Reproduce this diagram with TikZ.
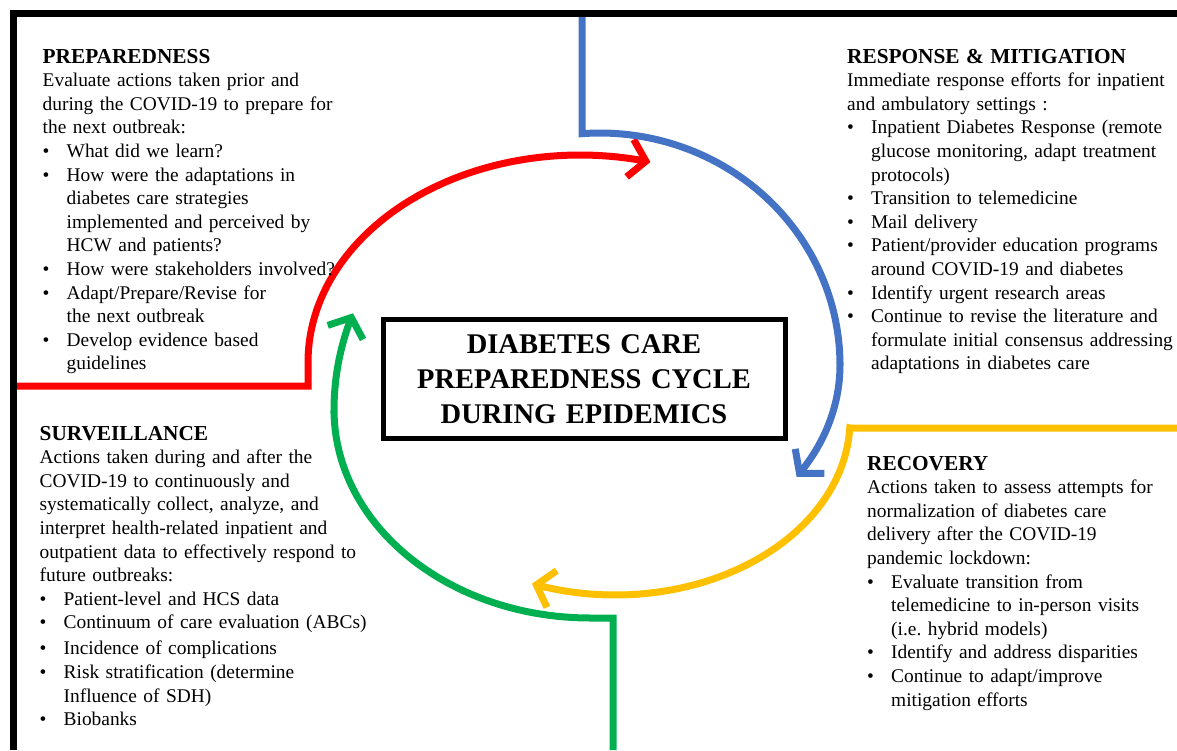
\documentclass[tikz,border=0pt]{standalone}
\usepackage{fontspec}
\setmainfont{Liberation Serif}
\usetikzlibrary{arrows.meta}
\definecolor{cred}{HTML}{FF0000}
\definecolor{cblue}{HTML}{4472C4}
\definecolor{cyellow}{HTML}{FFC000}
\definecolor{cgreen}{HTML}{00B050}
\frenchspacing
\newcommand{\bu}{\makebox[24pt][l]{\textbullet}}
\newcommand{\ind}{\hspace*{24pt}}
\newcommand{\hd}[1]{{\fontsize{21.3}{23.6}\selectfont\bfseries #1}}
\begin{document}
\begin{tikzpicture}[x=1pt,y=-1pt,
  cyc/.style={line width=7pt, line join=miter,
    -{Straight Barb[length=16pt,width=38pt,line cap=butt,line join=miter]}},
  txt/.style={font=\fontsize{19.4}{23.6}\selectfont, text width=520pt, align=left, inner sep=0pt, anchor=base west},
  titlebox/.style={draw, line width=5pt, minimum width=402pt, minimum height=119pt, inner sep=0pt},
  titletxt/.style={font=\fontsize{28.5}{35.3}\selectfont\bfseries, text width=402pt, align=center, inner sep=0pt, anchor=base}]
\useasboundingbox[fill=white] (0,0) rectangle (1177,750);

% red: preparedness
\draw[cyc, cred] (13,386) -- (308,386) -- (308,362)
  -- plot[domain=0:105, samples=60, variable=\t] ({580+272*cos(180-\t)}, {362-207*sin(180-\t)});
% blue: response
\draw[cyc, cblue] (582,17) -- (582,133)
  -- plot[domain=0:94.3, samples=60, variable=\t] ({600+240*cos(94.3-\t)}, {365-232*sin(94.3-\t)})
  -- plot[domain=0:35, samples=25, variable=\t] ({600+240*cos(\t)}, {365+195*sin(\t)});
% yellow: recovery
\draw[cyc, cyellow] (1177,428) -- (850,428)
  -- plot[domain=2.6:110.7, samples=60, variable=\t] ({615+235*cos(\t)}, {420+175*sin(\t)});
% green: surveillance
\draw[cyc, cgreen] (613,750) -- (613,618) -- (590,618)
  -- plot[domain=0:90, samples=50, variable=\t] ({590+256*cos(270-\t)}, {410-208*sin(270-\t)})
  -- plot[domain=0:22.2, samples=20, variable=\t] ({590+256*cos(180-\t)}, {410-256*sin(180-\t)});

% frame
\draw[line width=7pt, line join=miter] (13,750) -- (13,13.5) -- (1177,13.5);

% title
\node[titlebox] (box) at (584,378.5) {};
\node[titletxt] (title) at (584,353) {DIABETES CARE\\PREPAREDNESS CYCLE\\DURING EPIDEMICS};

% texts
\node[txt] (prep) at (42.5,63) {\hd{PREPAREDNESS}\\
Evaluate actions taken prior and\\
during the COVID-19 to prepare for\\
the next outbreak:\\
\bu What did we learn?\\
\bu How were the adaptations in\\
\ind diabetes care strategies\\
\ind implemented and perceived by\\
\ind HCW and patients?\\
\bu How were stakeholders involved?\\
\bu Adapt/Prepare/Revise for\\
\ind the next outbreak\\
\bu Develop evidence based\\
\ind guidelines};

\node[txt] (resp) at (847,63) {\hd{RESPONSE \& MITIGATION}\\
Immediate response efforts for inpatient\\
and ambulatory settings :\\
\bu Inpatient Diabetes Response (remote\\
\ind glucose monitoring, adapt treatment\\
\ind protocols)\\
\bu Transition to telemedicine\\
\bu Mail delivery\\
\bu Patient/provider education programs\\
\ind around COVID-19 and diabetes\\
\bu Identify urgent research areas\\
\bu Continue to revise the literature and\\
\ind formulate initial consensus addressing\\
\ind adaptations in diabetes care};

\node[txt] (surv) at (39.5,440) {\hd{SURVEILLANCE}\\
Actions taken during and after the\\
COVID-19 to continuously and\\
systematically collect, analyze, and\\
interpret health-related inpatient and\\
outpatient data to effectively respond to\\
future outbreaks:\\
\bu Patient-level and HCS data\\
\bu Continuum of care evaluation (ABCs)\\[2.5pt]
\bu Incidence of complications\\
\bu Risk stratification (determine\\
\ind Influence of SDH)\\
\bu Biobanks};

\node[txt] (reco) at (867,470) {\hd{RECOVERY}\\
Actions taken to assess attempts for\\
normalization of diabetes care\\
delivery after the COVID-19\\
pandemic lockdown:\\
\bu Evaluate transition from\\
\ind telemedicine to in-person visits\\
\ind (i.e. hybrid models)\\
\bu Identify and address disparities\\
\bu Continue to adapt/improve\\
\ind mitigation efforts};
\end{tikzpicture}
\end{document}
